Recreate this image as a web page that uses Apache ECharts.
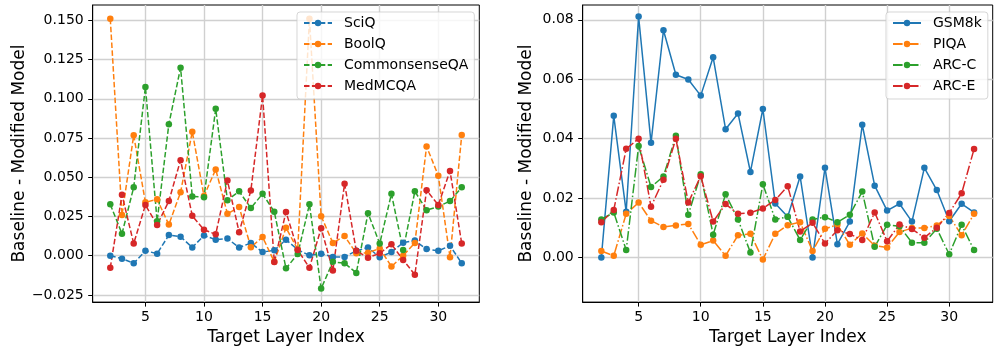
<!DOCTYPE html>
<html>
<head>
<meta charset="utf-8">
<script src="https://cdn.jsdelivr.net/npm/echarts@6/dist/echarts.min.js"></script>
<style>
html,body{margin:0;padding:0;background:#fff;}
#chart{width:1000px;height:351px;}
</style>
</head>
<body>
<div id="chart"></div>
<script>
const layers = [2,3,4,5,6,7,8,9,10,11,12,13,14,15,16,17,18,19,20,21,22,23,24,25,26,27,28,29,30,31,32];
const xTicks = [5,10,15,20,25,30];
const leftYTicks = [-0.025,0,0.025,0.05,0.075,0.1,0.125,0.15];
const rightYTicks = [0,0.02,0.04,0.06,0.08];

const sciq = [0.000,-0.0019,-0.0048,0.0031,0.0013,0.0131,0.0121,0.0052,0.0129,0.0102,0.0109,0.0052,0.0081,0.0023,0.0034,0.0102,0.0038,0.0002,0.0013,-0.0008,-0.0008,0.0031,0.0052,-0.001,0.0023,0.0083,0.0096,0.0042,0.0031,0.0063,-0.0048];
const boolq = [0.151,0.026,0.0767,0.034,0.0359,0.0198,0.0404,0.079,0.038,0.055,0.0267,0.031,0.0054,0.0119,-0.0039,0.0178,0.004,0.151,0.0252,0.0081,0.0125,0.0015,0.0019,0.0046,-0.0069,0.0,0.0081,0.0696,0.051,-0.001,0.0769];
const csqa = [0.0327,0.014,0.0436,0.1075,0.022,0.0838,0.1198,0.0377,0.0373,0.0936,0.0354,0.041,0.0304,0.0394,0.028,-0.0081,0.001,0.0327,-0.021,-0.0039,-0.0048,-0.011,0.0271,0.0077,0.0394,0.0036,0.041,0.029,0.0313,0.0348,0.0436];
const medmcqa = [-0.0077,0.0388,0.0077,0.0323,0.0196,0.0348,0.0609,0.0254,0.0165,0.0136,0.0479,0.015,0.0415,0.1021,-0.004,0.0279,0.0036,-0.0077,0.0175,-0.0094,0.0459,0.0031,-0.0013,0.0015,0.0073,-0.0027,-0.0121,0.0417,0.0323,0.054,0.0077];

const gsm8k = [0.000,0.0477,0.0154,0.0811,0.0386,0.0765,0.0615,0.0599,0.0545,0.0674,0.0432,0.0485,0.0288,0.05,0.0182,0.0137,0.0273,0.0,0.0302,0.0045,0.0121,0.0447,0.0242,0.0158,0.0181,0.0121,0.0302,0.0227,0.0122,0.0181,0.0152];
const piqa = [0.0022,0.0006,0.0147,0.0185,0.0124,0.0103,0.0108,0.0113,0.0043,0.0057,0.0006,0.0075,0.008,-0.0007,0.008,0.0109,0.0119,0.0022,0.0097,0.011,0.0043,0.0081,0.004,0.0034,0.0086,0.0099,0.0099,0.0108,0.014,0.0075,0.0147];
const arcc = [0.0128,0.0152,0.0025,0.0375,0.0237,0.0273,0.041,0.0144,0.028,0.0077,0.0213,0.0128,0.0017,0.0247,0.0128,0.0137,0.0059,0.0128,0.0136,0.0119,0.0144,0.0222,0.0036,0.011,0.0105,0.005,0.005,0.0097,0.0011,0.011,0.0025];
const arce = [0.0119,0.016,0.0366,0.04,0.0171,0.0262,0.040,0.0185,0.0274,0.0121,0.018,0.0147,0.0151,0.0165,0.0194,0.024,0.0088,0.0117,0.0047,0.0092,0.0079,0.0059,0.0152,0.0055,0.0111,0.0096,0.0067,0.01,0.015,0.0216,0.0365];

const FONT = 'DejaVu Sans';
const C = ['#1f77b4','#ff7f0e','#2ca02c','#d62728'];
const DASH = [5.5,2.4];
const DASHDOT = [9.6,2.4,1.5,2.4];

function pts(vals){ return layers.map((l,i)=>[l, vals[i]]); }
function mk(name, vals, color, dash, axisIdx){
  return {
    name, type:'line', xAxisIndex:axisIdx, yAxisIndex:axisIdx,
    data: pts(vals), symbol:'circle', symbolSize:6.5, showSymbol:true,
    lineStyle:{color, width:1.5, type:dash},
    itemStyle:{color},
    emphasis:{disabled:true}, animation:false
  };
}
function fmt(d){ return v => { let s = (Math.abs(v)<1e-9?0:v).toFixed(d); return s.replace('-', '\u2212'); }; }

function xAx(idx){
  return {
    type:'value', gridIndex:idx, min:0.5, max:33.5,
    name:'Target Layer Index', nameLocation:'middle', nameGap:24,
    nameTextStyle:{fontFamily:FONT, fontSize:17, color:'#000'},
    axisLine:{show:true, onZero:false, lineStyle:{color:'#000', width:1}},
    axisTick:{show:true, length:4.5, customValues:xTicks, lineStyle:{color:'#000', width:1}},
    axisLabel:{show:true, customValues:xTicks, margin:8, fontFamily:FONT, fontSize:14, color:'#000'},
    splitLine:{show:true, lineStyle:{color:'#d0d0d0', width:1.4}}
  };
}
function yAx(idx, min, max, ticks, d, gap){
  return {
    type:'value', gridIndex:idx, min, max,
    name:'Baseline - Modified Model', nameLocation:'middle', nameGap:gap, nameRotate:90,
    nameTextStyle:{fontFamily:FONT, fontSize:17, color:'#000'},
    axisLine:{show:true, onZero:false, lineStyle:{color:'#000', width:1}},
    axisTick:{show:true, length:4.5, customValues:ticks, lineStyle:{color:'#000', width:1}},
    axisLabel:{show:true, customValues:ticks, margin:9, fontFamily:FONT, fontSize:14, color:'#000', formatter:fmt(d)},
    splitLine:{show:true, lineStyle:{color:'#d0d0d0', width:1.4}}
  };
}
function legend(names, left){
  return {
    data:names, left, top:12, orient:'vertical',
    itemWidth:28, itemHeight:8, itemGap:7,
    padding:[4,6,6,6],
    backgroundColor:'rgba(255,255,255,0.8)', borderColor:'rgba(204,204,204,0.8)', borderWidth:1, borderRadius:3,
    textStyle:{fontFamily:FONT, fontSize:14, color:'#000', padding:[0,0,0,7]},
    selectedMode:false
  };
}

const chart = echarts.init(document.getElementById('chart'), null, {renderer:'canvas'});
chart.setOption({
  animation:false,
  backgroundColor:'#fff',
  grid:[
    {left:92.7, top:5, width:386.6, height:302.7, show:true, borderColor:'#000', borderWidth:1, backgroundColor:'transparent'},
    {left:582.7, top:5, width:410, height:303.3, show:true, borderColor:'#000', borderWidth:1, backgroundColor:'transparent'}
  ],
  xAxis:[xAx(0), xAx(1)],
  yAxis:[yAx(0,-0.0296,0.1598,leftYTicks,3,64), yAx(1,-0.015,0.085,rightYTicks,2,48)],
  legend:[legend(['SciQ','BoolQ','CommonsenseQA','MedMCQA'], 297), legend(['GSM8k','PIQA','ARC-C','ARC-E'], 886)],
  series:[
    mk('SciQ', sciq, C[0], DASH, 0),
    mk('BoolQ', boolq, C[1], DASH, 0),
    mk('CommonsenseQA', csqa, C[2], DASH, 0),
    mk('MedMCQA', medmcqa, C[3], DASH, 0),
    mk('GSM8k', gsm8k, C[0], 'solid', 1),
    mk('PIQA', piqa, C[1], DASHDOT, 1),
    mk('ARC-C', arcc, C[2], DASHDOT, 1),
    mk('ARC-E', arce, C[3], DASHDOT, 1)
  ]
});
</script>
</body>
</html>
